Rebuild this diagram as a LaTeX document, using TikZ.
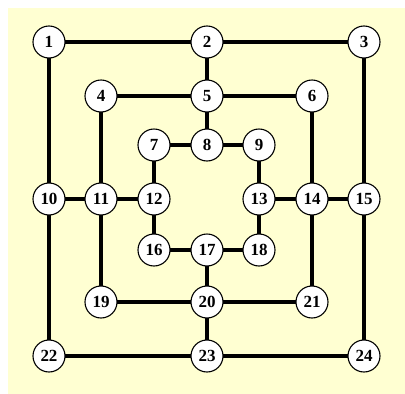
\documentclass[tikz,border=0pt]{standalone}
\usepackage{fontspec}
\setmainfont{Liberation Serif}
\definecolor{bgy}{HTML}{FFFFD2}
\begin{document}
\begin{tikzpicture}[x=1pt,y=-1pt,
  pt/.style={circle,draw=black,line width=1.1pt,fill=white,minimum size=32pt,inner sep=0pt,font=\fontsize{17}{17}\selectfont\bfseries},
  edge/.style={line width=4.8pt}]
\useasboundingbox (0,0) rectangle (405,394);
\fill[bgy] (8,8) rectangle (405,394);
\foreach \n/\x/\y in {1/49/42,2/207/42,3/364/42,4/101/96,5/207/96,6/312/96,7/154/145,8/207/145,9/259/145,10/49/199,11/101/199,12/154/199,13/259/199,14/312/199,15/364/199,16/154/250,17/207/250,18/259/250,19/101/302,20/207/302,21/312/302,22/49/356,23/207/356,24/364/356}
  \coordinate (c\n) at (\x,\y);
\foreach \a/\b in {1/2,2/3,1/10,10/22,22/23,23/24,3/15,15/24,4/5,5/6,4/11,11/19,19/20,20/21,6/14,14/21,7/8,8/9,7/12,12/16,16/17,17/18,9/13,13/18,2/5,5/8,10/11,11/12,13/14,14/15,17/20,20/23}
  \draw[edge] (c\a) -- (c\b);
\foreach \n in {1,...,24}
  \node[pt] (n\n) at (c\n) {\n};
\end{tikzpicture}
\end{document}
